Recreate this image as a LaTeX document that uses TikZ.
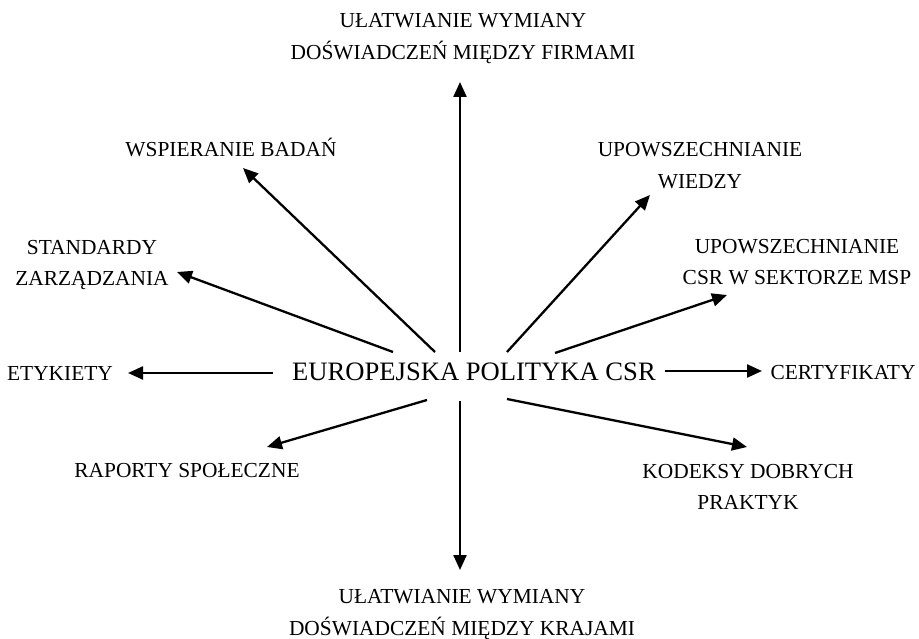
\documentclass[tikz,border=0pt]{standalone}
\usepackage{fontspec}
\setmainfont{Liberation Serif}
\usepackage{tikz}
\usetikzlibrary{positioning,arrows.meta}
\tikzset{
  txt/.style={inner sep=0pt, anchor=base, align=center, font=\fontsize{21.4}{31.5}\selectfont},
  maintxt/.style={inner sep=0pt, anchor=center, font=\fontsize{26.6}{30}\selectfont},
  fwd/.style={-{Triangle[length=15pt, width=13pt]}, line width=2.3pt},
}

\begin{document}
\begin{tikzpicture}[x=1pt, y=-1pt]
  \useasboundingbox (0,0) rectangle (919,639);

  \node[maintxt] (csr) at (474,372) {EUROPEJSKA POLITYKA CSR};

  % two-line labels sit on the baseline of their last line
  \node[txt] (firmy) at (463,59.5) {UŁATWIANIE WYMIANY\\DOŚWIADCZEŃ MIĘDZY FIRMAMI};
  \node[txt] (badania) at (231,157) {WSPIERANIE BADAŃ};
  \node[txt] (standardy) at (92,285.5) {STANDARDY\\ZARZĄDZANIA};
  \node[txt] (etykiety) at (60,380) {ETYKIETY};
  \node[txt] (raporty) at (187,477) {RAPORTY SPOŁECZNE};
  \node[txt] (kraje) at (462,635) {UŁATWIANIE WYMIANY\\DOŚWIADCZEŃ MIĘDZY KRAJAMI};
  \node[txt] (kodeksy) at (748,509.5) {KODEKSY DOBRYCH\\PRAKTYK};
  \node[txt] (certyfikaty) at (843,379) {CERTYFIKATY};
  \node[txt] (wiedza) at (700,188.5) {UPOWSZECHNIANIE\\WIEDZY};
  \node[txt] (msp) at (797,284.5) {UPOWSZECHNIANIE\\CSR W SEKTORZE MSP};

  % arrows out of the centre
  \draw[fwd] ([shift={(-14,-20)}]csr.center) -- ([shift={(-3,22.5)}]firmy.base);
  \draw[fwd] ([shift={(-39,-20)}]csr.center) -- ([shift={(12,11)}]badania.base);
  \draw[fwd] ([shift={(-81,-20)}]csr.center) -- ([shift={(85,-13.5)}]standardy.base);
  \draw[fwd] ([shift={(-201,1)}]csr.center) -- ([shift={(68,-7)}]etykiety.base);
  \draw[fwd] ([shift={(-47,28)}]csr.center) -- ([shift={(80,-30)}]raporty.base);
  \draw[fwd] ([shift={(-14,29)}]csr.center) -- ([shift={(-2,-65)}]kraje.base);
  \draw[fwd] ([shift={(33,27)}]csr.center) -- ([shift={(-1,-62.5)}]kodeksy.base);
  \draw[fwd] ([shift={(191,-1)}]csr.center) -- ([shift={(-81,-8)}]certyfikaty.base);
  \draw[fwd] ([shift={(33,-20)}]csr.center) -- ([shift={(-50,6.5)}]wiedza.base);
  \draw[fwd] ([shift={(81,-19)}]csr.center) -- ([shift={(-70,10.5)}]msp.base);

\end{tikzpicture}
\end{document}
